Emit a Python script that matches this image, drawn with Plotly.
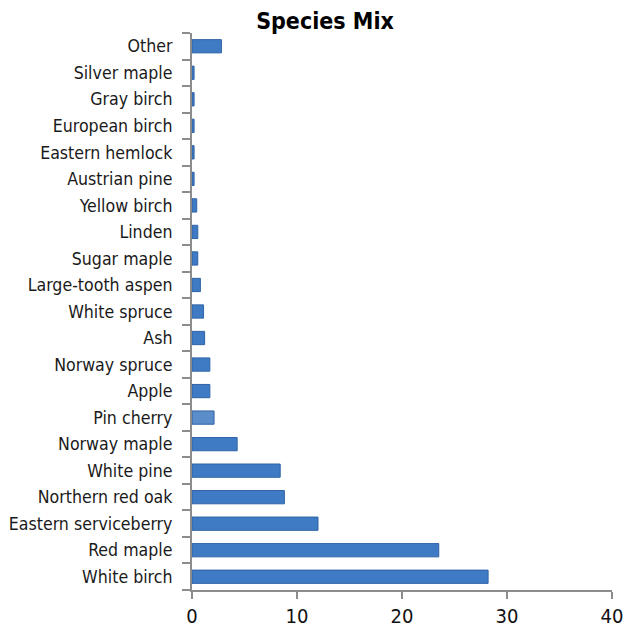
import plotly.graph_objects as go

# Species listed bottom-to-top as they appear on the chart
species = [
    "White birch", "Red maple", "Eastern serviceberry", "Northern red oak",
    "White pine", "Norway maple", "Pin cherry", "Apple", "Norway spruce",
    "Ash", "White spruce", "Large-tooth aspen", "Sugar maple", "Linden",
    "Yellow birch", "Austrian pine", "Eastern hemlock", "European birch",
    "Gray birch", "Silver maple", "Other",
]
percent = [
    28.2, 23.5, 12.0, 8.8,
    8.4, 4.3, 2.1, 1.7, 1.7,
    1.2, 1.1, 0.8, 0.55, 0.55,
    0.45, 0.2, 0.2, 0.2,
    0.2, 0.2, 2.8,
]
x_ticks = [0, 10, 20, 30, 40]

bar_color = "#3F7BC4"
colors = ["#5B8DCA" if s == "Pin cherry" else bar_color for s in species]

fig = go.Figure()
fig.add_trace(go.Bar(
    x=percent,
    y=species,
    orientation="h",
    marker=dict(color=colors, line=dict(color="#2F63A6", width=1)),
    hoverinfo="x+y",
))

narrow = "DejaVu Sans Condensed, Liberation Sans Narrow, Arial Narrow, Liberation Sans, Arial"

fig.update_layout(
    width=625,
    height=628,
    paper_bgcolor="white",
    plot_bgcolor="white",
    margin=dict(l=192, r=13, t=33, b=38, autoexpand=False),
    bargap=0.5,
    showlegend=False,
    title=dict(
        text="<b>Species Mix</b>",
        x=0.52,
        xanchor="center",
        y=0.967,
        yanchor="middle",
        font=dict(family=narrow, size=23, color="#000000"),
    ),
    xaxis=dict(
        range=[0, 40],
        tickvals=x_ticks,
        automargin=False,
        showgrid=False,
        zeroline=False,
        showline=True,
        linecolor="#8C8C8C",
        linewidth=2,
        ticks="outside",
        ticklen=7,
        tickwidth=2,
        tickcolor="#8C8C8C",
        tickfont=dict(family=narrow, size=20, color="#111111"),
    ),
    yaxis=dict(
        categoryorder="array",
        categoryarray=species,
        automargin=False,
        showgrid=False,
        zeroline=False,
        showline=True,
        linecolor="#8C8C8C",
        linewidth=2,
        ticks="outside",
        tickson="boundaries",
        ticklen=8,
        tickwidth=2,
        tickcolor="#8C8C8C",
        tickfont=dict(family=narrow, size=17.6, color="#1a1a1a"),
        ticklabelstandoff=14,
    ),
)

fig.write_html("out.html")
